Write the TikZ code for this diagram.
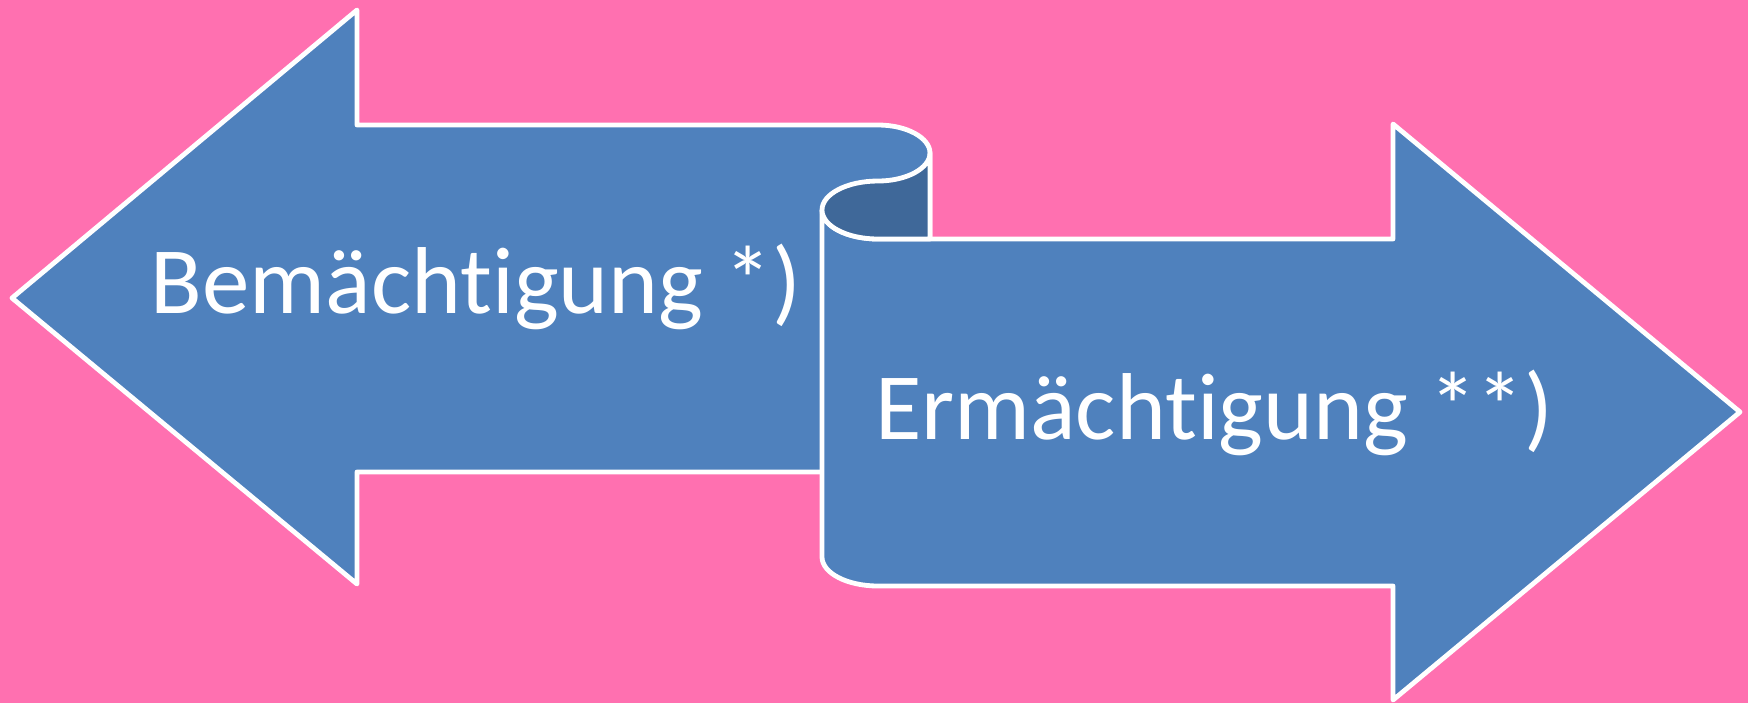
\documentclass[tikz,border=0pt]{standalone}
\usepackage{fontspec}
\setmainfont{Carlito}[Ligatures=NoCommon]
\usepackage{tikz}
\definecolor{colorbg}{HTML}{FF70B0}
\definecolor{colorarrow}{HTML}{4F81BD}
\definecolor{colorfold}{HTML}{3F6899}
\tikzset{
  arrowshape/.style={fill=colorarrow, draw=white, line width=2.4pt, line join=round},
  foldshape/.style={fill=colorfold, draw=white, line width=2.4pt, line join=round},
  arrowtext/.style={text=white, font=\fontsize{47.5}{50}\selectfont, anchor=base, inner sep=0pt}
}
\begin{document}
\begin{tikzpicture}[x=0.5pt, y=-0.5pt]
\fill[colorbg] (0,0) rectangle (1748,703);
\useasboundingbox (0,0) rectangle (1748,703);
% left arrow with the roll on top
\draw[arrowshape] (12,298) -- (357,10) -- (357,125) -- (878,125)
  .. controls (907,125) and (930,138) .. (930,153)
  -- (930,472) -- (357,472) -- (357,584) -- cycle;
% right arrow
\draw[arrowshape] (822,210) -- (822,557)
  .. controls (822,573) and (847,586) .. (878,586)
  -- (1393,586) -- (1393,700) -- (1740,412) -- (1393,124) -- (1393,239)
  -- (878,239) .. controls (847,239) and (822,226) .. (822,210);
% fold
\draw[foldshape] (930,153) .. controls (930,168) and (907,181) .. (878,181)
  .. controls (847,181) and (822,194) .. (822,210)
  .. controls (822,226) and (847,239) .. (878,239) -- (930,239) -- cycle;
\node[arrowtext] (bem) at (476,313) {Bemächtigung *)};
\node[arrowtext] (erm) at (1214,439) {Ermächtigung **)};
\end{tikzpicture}
\end{document}
